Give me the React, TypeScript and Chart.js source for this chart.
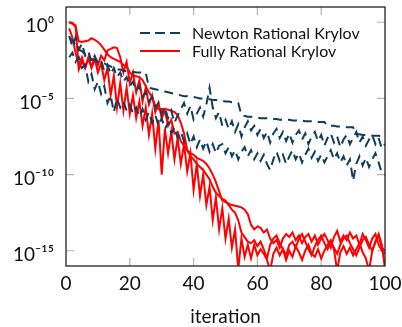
import React, { useEffect, useRef } from 'react';
import { Chart, registerables } from 'chart.js';

Chart.register(...registerables);

// iteration numbers (x values)
const iterations = [
  1, 2, 3, 4, 5, 6, 7, 8, 9, 10, 11, 12, 13, 14, 15, 16, 17, 18, 19, 20,
  21, 22, 23, 24, 25, 26, 27, 28, 29, 30, 31, 32, 33, 34, 35, 36, 37, 38, 39, 40,
  41, 42, 43, 44, 45, 46, 47, 48, 49, 50, 51, 52, 53, 54, 55, 56, 57, 58, 59, 60,
  61, 62, 63, 64, 65, 66, 67, 68, 69, 70, 71, 72, 73, 74, 75, 76, 77, 78, 79, 80,
  81, 82, 83, 84, 85, 86, 87, 88, 89, 90, 91, 92, 93, 94, 95, 96, 97, 98, 99, 100,
];

// log10 of residuals
const newtonTopLog = [
  -1.0, -1.2, -1.5, -1.8, -1.9, -2.1, -2.3, -2.4, -2.5, -2.6,
  -2.6, -2.7, -2.8, -2.9, -3.0, -3.1, -3.1, -3.2, -3.2, -3.2,
  -3.25, -3.3, -3.3, -3.3, -3.3, -4.3, -4.35, -4.4, -4.45, -4.5,
  -4.55, -4.6, -4.65, -4.7, -4.75, -4.8, -4.85, -4.85, -4.9, -4.9,
  -4.95, -5.0, -5.0, -5.05, -5.05, -5.1, -5.1, -5.15, -5.15, -5.2,
  -5.2, -5.25, -5.25, -5.3, -6.1, -6.15, -6.2, -6.2, -6.25, -6.25,
  -6.3, -6.3, -6.3, -6.35, -6.35, -6.35, -6.4, -6.4, -6.4, -6.4,
  -6.45, -6.45, -6.45, -6.45, -6.5, -6.5, -6.5, -6.5, -6.55, -6.55,
  -6.55, -6.8, -6.8, -6.8, -6.85, -6.85, -6.85, -6.9, -6.9, -6.9,
  -7.35, -7.35, -7.4, -7.4, -7.4, -7.45, -7.45, -7.45, -7.5, -7.5,
];

const newtonMidLog = [
  -0.9, -1.6, -1.0, -1.8, -1.4, -2.2, -1.9, -2.6, -2.2, -2.7,
  -2.5, -3.2, -2.8, -3.4, -3.0, -3.6, -3.3, -3.9, -3.6, -4.2,
  -3.9, -4.5, -4.2, -4.9, -4.6, -5.2, -4.9, -5.6, -5.3, -6.0,
  -5.6, -6.3, -5.8, -6.6, -6.1, -5.7, -5.3, -6.0, -5.5, -6.4,
  -6.0, -5.6, -6.2, -5.4, -4.3, -5.6, -6.3, -5.9, -6.8, -6.4,
  -7.0, -6.5, -7.2, -6.7, -7.5, -6.9, -6.5, -7.1, -6.8, -7.4,
  -7.0, -7.6, -7.2, -7.9, -7.3, -7.0, -7.6, -7.2, -7.8, -7.3,
  -7.9, -7.4, -7.1, -7.7, -7.3, -8.0, -7.5, -7.2, -7.8, -7.4,
  -8.1, -7.6, -7.3, -7.9, -7.5, -8.2, -7.7, -7.4, -8.0, -7.6,
  -7.2, -7.9, -7.5, -8.1, -7.7, -7.4, -8.0, -7.6, -8.3, -8.0,
];

const newtonLowLog = [
  -2.3, -2.0, -2.6, -2.3, -3.0, -2.8, -3.9, -3.4, -4.4, -3.9,
  -4.7, -4.2, -5.3, -4.8, -5.9, -5.0, -5.6, -5.2, -5.8, -5.4,
  -6.0, -5.6, -6.2, -5.7, -6.4, -5.9, -6.6, -6.1, -6.8, -6.3,
  -7.0, -6.6, -7.3, -6.9, -7.6, -7.2, -7.8, -7.3, -8.0, -7.5,
  -8.2, -7.7, -8.3, -7.8, -8.5, -8.0, -8.6, -8.1, -8.0, -8.6,
  -8.2, -8.8, -8.4, -9.0, -8.5, -8.2, -8.8, -8.4, -9.0, -8.6,
  -9.1, -8.7, -9.3, -9.7, -9.0, -8.5, -9.1, -8.7, -9.3, -8.8,
  -8.4, -9.0, -8.6, -9.2, -8.7, -8.3, -8.9, -8.5, -9.1, -8.7,
  -9.2, -8.8, -8.4, -9.0, -8.6, -9.2, -8.8, -9.4, -9.0, -10.4,
  -9.3, -8.8, -9.4, -8.9, -9.5, -9.0, -8.6, -9.2, -9.9, -10.0,
];

const fullyUpperLog = [
  0.0, -0.05, -0.3, -1.25, -1.3, -1.25, -1.2, -1.05, -1.15, -1.3,
  -1.5, -1.8, -2.1, -2.3, -2.4, -2.5, -2.6, -2.8, -2.9, -3.3,
  -3.5, -3.55, -3.6, -3.8, -4.2, -4.6, -4.9, -5.5, -5.7, -5.7,
  -5.7, -5.75, -5.8, -5.9, -6.1, -6.6, -7.3, -8.4, -8.6, -8.7,
  -8.9, -9.0, -9.1, -9.3, -9.6, -10.0, -10.5, -11.1, -11.7, -11.8,
  -11.9, -12.0, -12.05, -12.1, -12.15, -12.3, -12.6, -13.3, -13.6, -13.4,
  -13.5, -13.8, -13.6, -14.2, -14.5, -14.3, -14.8, -14.2, -13.9, -14.1,
  -13.8, -14.3, -14.0, -14.5, -14.1, -13.9, -14.4, -14.0, -14.6, -14.2,
  -13.9, -14.3, -14.8, -14.1, -13.7, -14.4, -14.0, -14.3, -13.8, -14.2,
  -14.0, -14.6, -13.9, -14.3, -14.8, -14.2, -13.9, -14.6, -15.0, -15.2,
];

const fullyMidLog = [
  -0.4, -1.0, -2.0, -2.8, -2.3, -3.0, -2.4, -2.9, -2.3, -2.8,
  -2.2, -2.5, -1.85, -1.75, -1.65, -1.7, -2.3, -3.3, -2.6, -4.0,
  -3.3, -4.6, -3.8, -5.2, -4.3, -5.4, -4.8, -5.9, -5.3, -6.3,
  -5.8, -6.8, -6.4, -7.3, -7.2, -7.8, -8.1, -8.4, -8.8, -9.0,
  -9.3, -9.5, -9.7, -10.0, -10.3, -10.8, -11.2, -11.4, -11.6, -11.7,
  -12.0, -12.3, -12.5, -13.0, -13.8, -14.1, -14.4, -14.5, -14.3, -14.7,
  -14.4, -14.9, -15.5, -14.6, -14.2, -14.0, -14.5, -14.9, -15.3, -14.6,
  -14.4, -14.8, -14.2, -13.9, -14.4, -14.9, -15.3, -14.7, -14.3, -14.0,
  -14.5, -14.9, -14.4, -14.8, -15.2, -14.6, -14.2, -14.0, -14.5, -14.9,
  -15.3, -14.8, -14.3, -14.1, -14.6, -15.0, -14.4, -14.0, -14.8, -15.0,
];

const fullyJaggedLog = [
  0.0, -0.1, -0.2, -3.1, -2.6, -3.0, -2.3, -3.0, -2.4, -3.3,
  -2.7, -3.8, -3.0, -4.8, -3.5, -5.6, -4.0, -5.8, -4.3, -6.0,
  -4.8, -6.3, -5.2, -6.8, -5.6, -7.4, -6.0, -8.3, -6.4, -10.0,
  -7.0, -8.6, -7.2, -9.0, -7.6, -9.3, -8.0, -9.8, -8.6, -11.0,
  -9.3, -11.4, -10.0, -12.0, -10.8, -13.0, -11.5, -13.6, -12.2, -14.2,
  -12.9, -14.8, -13.6, -16.2, -14.2, -15.4, -14.6, -15.5, -14.6, -15.3,
  -14.9, -15.2, -15.6, -16.3, -15.2, -14.8, -15.3, -14.9, -15.6, -15.0,
  -15.4, -14.7, -15.1, -15.6, -15.0, -14.6, -15.2, -15.4, -14.9, -15.5,
  -15.0, -14.6, -14.3, -14.9, -16.3, -15.1, -14.7, -15.2, -14.8, -15.3,
  -14.9, -14.5, -15.1, -15.5, -16.3, -15.0, -14.4, -13.9, -14.6, -16.2,
];

const xTicks = [0, 20, 40, 60, 80, 100];
const yTickExponents = [0, -5, -10, -15];
const yTickLabels = ['10⁰', '10⁻⁵', '10⁻¹⁰', '10⁻¹⁵'];
const legendLabels = ['Newton Rational Krylov', 'Fully Rational Krylov'];

const NAVY = '#0f3d5c';
const RED = '#ff0000';
const FONT = 'Lato, "DejaVu Sans", sans-serif';

const toPoints = (logs: number[]) => logs.map((v, i) => ({ x: iterations[i], y: Math.pow(10, v) }));

const zeroPadding = (scale: any) => {
  scale.paddingTop = 0;
  scale.paddingBottom = 0;
  scale.paddingLeft = 0;
  scale.paddingRight = 0;
};

const framePlugin = {
  id: 'frameAndTicks',
  beforeDatasetsDraw(chart: any) {
    const { ctx, chartArea } = chart;
    const xs = chart.scales.x;
    const ys = chart.scales.y;
    const len = 8;
    ctx.save();
    ctx.strokeStyle = '#b4b4b4';
    ctx.lineWidth = 1.2;
    ctx.beginPath();
    xTicks.forEach((t) => {
      const px = xs.getPixelForValue(t);
      if (t === 0 || t === 100) return;
      ctx.moveTo(px, chartArea.bottom);
      ctx.lineTo(px, chartArea.bottom - len);
      ctx.moveTo(px, chartArea.top);
      ctx.lineTo(px, chartArea.top + len);
    });
    yTickExponents.forEach((e) => {
      const py = ys.getPixelForValue(Math.pow(10, e));
      ctx.moveTo(chartArea.left, py);
      ctx.lineTo(chartArea.left + len, py);
      ctx.moveTo(chartArea.right, py);
      ctx.lineTo(chartArea.right - len, py);
    });
    ctx.stroke();
    ctx.restore();
  },
  afterDatasetsDraw(chart: any) {
    const { ctx, chartArea } = chart;
    ctx.save();
    ctx.strokeStyle = '#222222';
    ctx.lineWidth = 1.3;
    ctx.strokeRect(chartArea.left, chartArea.top, chartArea.right - chartArea.left, chartArea.bottom - chartArea.top);
    ctx.restore();
  },
  afterDraw(chart: any) {
    const { ctx } = chart;
    ctx.save();
    ctx.lineWidth = 2;
    ctx.strokeStyle = NAVY;
    ctx.setLineDash([10, 5]);
    ctx.beginPath();
    ctx.moveTo(140, 33);
    ctx.lineTo(180, 33);
    ctx.stroke();
    ctx.setLineDash([]);
    ctx.strokeStyle = RED;
    ctx.beginPath();
    ctx.moveTo(140, 51);
    ctx.lineTo(180, 51);
    ctx.stroke();
    ctx.fillStyle = '#111111';
    ctx.font = `16px ${FONT}`;
    ctx.textBaseline = 'alphabetic';
    ctx.textAlign = 'left';
    ctx.fillText(legendLabels[0], 192, 38.5);
    ctx.fillText(legendLabels[1], 192, 57);
    ctx.restore();
  },
};

export default function App() {
  const canvasRef = useRef<HTMLCanvasElement | null>(null);

  useEffect(() => {
    if (!canvasRef.current) return;
    const newtonStyle = { borderColor: NAVY, borderWidth: 2, borderDash: [9, 6], pointRadius: 0, tension: 0, fill: false };
    const fullyStyle = { borderColor: RED, borderWidth: 2, pointRadius: 0, tension: 0, fill: false };
    const chart = new Chart(canvasRef.current, {
      type: 'line',
      data: {
        datasets: [
          { label: legendLabels[0], data: toPoints(newtonTopLog), ...newtonStyle },
          { label: legendLabels[0] + ' 2', data: toPoints(newtonMidLog), ...newtonStyle },
          { label: legendLabels[0] + ' 3', data: toPoints(newtonLowLog), ...newtonStyle },
          { label: legendLabels[1], data: toPoints(fullyUpperLog), ...fullyStyle },
          { label: legendLabels[1] + ' 2', data: toPoints(fullyMidLog), ...fullyStyle },
          { label: legendLabels[1] + ' 3', data: toPoints(fullyJaggedLog), ...fullyStyle },
        ],
      },
      options: {
        animation: false,
        responsive: true,
        maintainAspectRatio: false,
        layout: { padding: { left: 0, right: 17, top: 7, bottom: 0 } },
        plugins: { legend: { display: false }, tooltip: { enabled: false } },
        scales: {
          x: {
            type: 'linear',
            min: 0,
            max: 100,
            grid: { display: false, drawTicks: false },
            border: { display: false },
            afterBuildTicks: (scale: any) => {
              scale.ticks = xTicks.map((v) => ({ value: v }));
            },
            afterFit: (scale: any) => {
              scale.height = 61;
              zeroPadding(scale);
            },
            ticks: {
              color: '#111111',
              font: { family: FONT, size: 19 },
              padding: 6,
              maxRotation: 0,
              autoSkip: false,
            },
            title: {
              display: true,
              text: 'iteration',
              color: '#111111',
              font: { family: FONT, size: 19, lineHeight: 1 },
              padding: { top: 0, bottom: 1 },
            },
          },
          y: {
            type: 'logarithmic',
            min: 1e-16,
            max: 10,
            grid: { display: false, drawTicks: false },
            border: { display: false },
            afterBuildTicks: (scale: any) => {
              scale.ticks = yTickExponents.map((e) => ({ value: Math.pow(10, e) }));
            },
            afterFit: (scale: any) => {
              scale.width = 66;
              zeroPadding(scale);
            },
            ticks: {
              color: '#111111',
              font: { family: FONT, size: 19 },
              padding: 12,
              labelOffset: 4,
              autoSkip: false,
              callback: (_v: any, index: number) => yTickLabels[index],
            },
          },
        },
      },
      plugins: [framePlugin],
    });
    return () => chart.destroy();
  }, []);

  return (
    <div style={{ position: 'fixed', left: 0, top: 0, width: 402, height: 327, background: '#ffffff' }}>
      <canvas ref={canvasRef} />
    </div>
  );
}
